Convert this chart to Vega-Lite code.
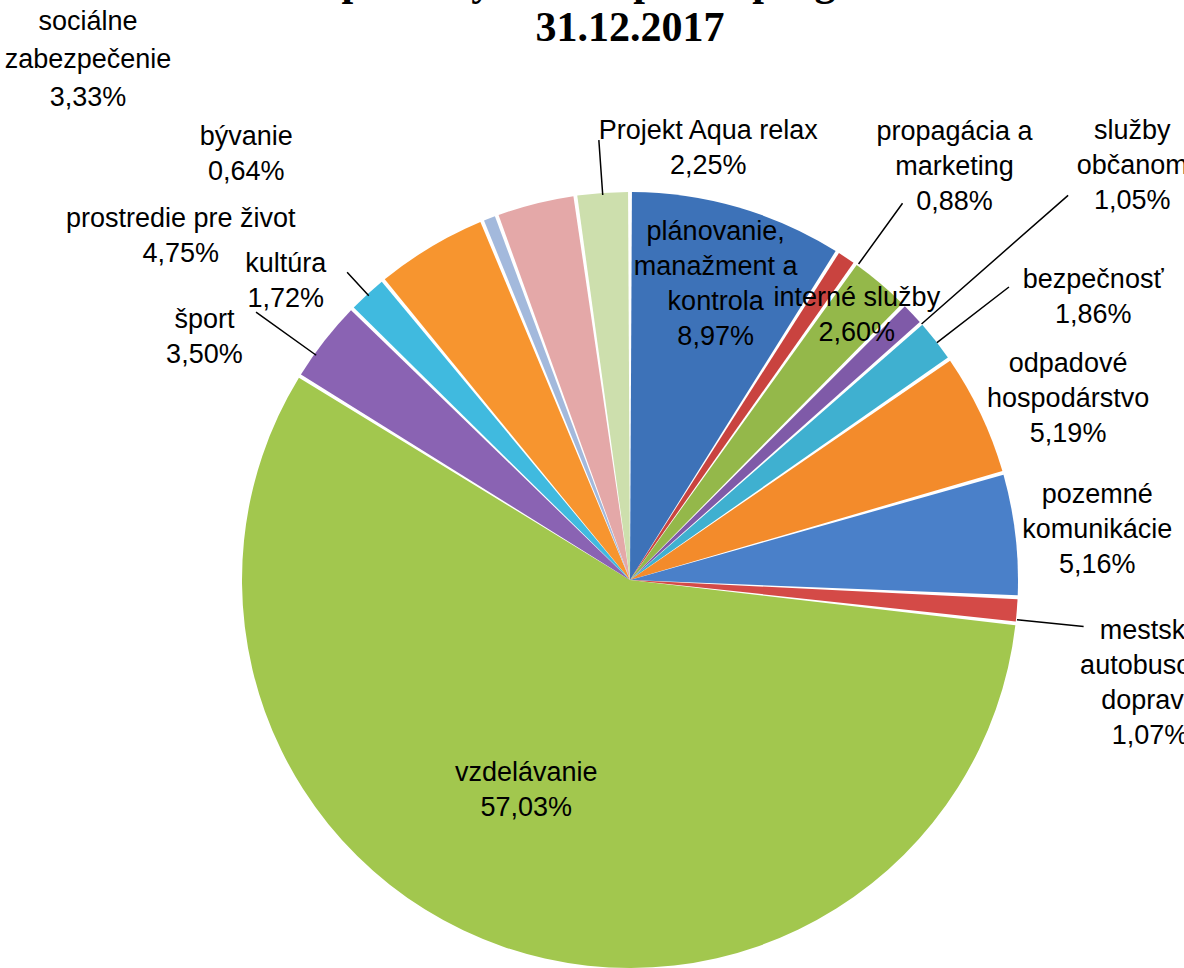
{
  "$schema": "https://vega.github.io/schema/vega-lite/v6.json",
  "width": 1108,
  "height": 776,
  "autosize": {"type": "none"},
  "padding": {"left": 76, "top": 192, "right": 0, "bottom": 0},
  "background": "white",
  "config": {"view": {"stroke": null}},
  "title": {
    "text": ["Čerpanie výdavkov podľa programov k", "31.12.2017"],
    "font": "Liberation Serif",
    "fontSize": 42,
    "fontWeight": "bold",
    "lineHeight": 46,
    "color": "black",
    "anchor": "middle",
    "frame": "group",
    "offset": 0,
    "dy": 42
  },
  "data": {
    "values": [
      {"order": 1, "name": "plánovanie,\nmanažment a\nkontrola", "value": 8.97},
      {"order": 2, "name": "propagácia a\nmarketing", "value": 0.88},
      {"order": 3, "name": "interné služby", "value": 2.60},
      {"order": 4, "name": "služby\nobčanom", "value": 1.05},
      {"order": 5, "name": "bezpečnosť", "value": 1.86},
      {"order": 6, "name": "odpadové\nhospodárstvo", "value": 5.19},
      {"order": 7, "name": "pozemné\nkomunikácie", "value": 5.16},
      {"order": 8, "name": "mestská\nautobusová\ndoprava", "value": 1.07},
      {"order": 9, "name": "vzdelávanie", "value": 57.03},
      {"order": 10, "name": "šport", "value": 3.50},
      {"order": 11, "name": "kultúra", "value": 1.72},
      {"order": 12, "name": "prostredie pre život", "value": 4.75},
      {"order": 13, "name": "bývanie", "value": 0.64},
      {"order": 14, "name": "sociálne\nzabezpečenie", "value": 3.33},
      {"order": 15, "name": "Projekt Aqua relax", "value": 2.25}
    ]
  },
  "transform": [
    {"stack": "value", "groupby": [], "sort": [{"field": "order"}], "as": ["v0", "v1"]},
    {"calculate": "(datum.v0 + datum.v1) / 2", "as": "mid"},
    {"calculate": "datum.name + '\\n' + replace(format(datum.value, '.2f'), '.', ',') + '%'", "as": "label"}
  ],
  "layer": [
    {
      "mark": {"type": "arc", "outerRadius": 388, "padAngle": 0.01},
      "encoding": {
        "theta": {"field": "v0", "type": "quantitative", "scale": {"domain": [0, 100]}},
        "theta2": {"field": "v1"},
        "color": {
          "field": "order",
          "type": "nominal",
          "scale": {
            "domain": [1, 2, 3, 4, 5, 6, 7, 8, 9, 10, 11, 12, 13, 14, 15],
            "range": ["#3D72B8", "#C9433F", "#94B84A", "#7F5AA8", "#3FB0D0", "#F38B2B", "#4A80C9", "#D44A47", "#A2C74E", "#8A63B3", "#40BADF", "#F7952F", "#A3B9DC", "#E4A8A8", "#CDDFAD"]
          },
          "legend": null
        }
      }
    },
    {"transform": [{"filter": "datum.order == 2"}], "mark": {"type": "arc", "radius": 465, "radius2": 390, "thetaOffset": 0.035, "theta2Offset": 0.035, "filled": false, "stroke": "black", "strokeWidth": 1.5}, "encoding": {"theta": {"field": "mid", "type": "quantitative"}, "theta2": {"field": "mid"}}},
    {"transform": [{"filter": "datum.order == 4"}], "mark": {"type": "arc", "radius": 583, "radius2": 388, "thetaOffset": 0.035, "theta2Offset": 0.035, "filled": false, "stroke": "black", "strokeWidth": 1.5}, "encoding": {"theta": {"field": "mid", "type": "quantitative"}, "theta2": {"field": "mid"}}},
    {"transform": [{"filter": "datum.order == 5"}], "mark": {"type": "arc", "radius": 479, "radius2": 388, "thetaOffset": 0.006, "theta2Offset": 0.006, "filled": false, "stroke": "black", "strokeWidth": 1.5}, "encoding": {"theta": {"field": "mid", "type": "quantitative"}, "theta2": {"field": "mid"}}},
    {"transform": [{"filter": "datum.order == 8"}], "mark": {"type": "arc", "radius": 456, "radius2": 389, "thetaOffset": 0.024, "theta2Offset": 0.024, "filled": false, "stroke": "black", "strokeWidth": 1.5}, "encoding": {"theta": {"field": "mid", "type": "quantitative"}, "theta2": {"field": "mid"}}},
    {"transform": [{"filter": "datum.order == 10"}], "mark": {"type": "arc", "radius": 460, "radius2": 386, "thetaOffset": -0.042, "theta2Offset": -0.042, "filled": false, "stroke": "black", "strokeWidth": 1.5}, "encoding": {"theta": {"field": "mid", "type": "quantitative"}, "theta2": {"field": "mid"}}},
    {"transform": [{"filter": "datum.order == 11"}], "mark": {"type": "arc", "radius": 418, "radius2": 386, "filled": false, "stroke": "black", "strokeWidth": 1.5}, "encoding": {"theta": {"field": "mid", "type": "quantitative"}, "theta2": {"field": "mid"}}},
    {"transform": [{"filter": "datum.order == 15"}], "mark": {"type": "arc", "radius": 441, "radius2": 386, "filled": false, "stroke": "black", "strokeWidth": 1.5}, "encoding": {"theta": {"field": "mid", "type": "quantitative"}, "theta2": {"field": "mid"}}},
    {"transform": [{"filter": "datum.order == 1"}], "mark": {"type": "text", "radius": 308, "thetaOffset": 0.0, "dy": -52, "font": "Liberation Sans", "fontSize": 27, "lineHeight": 35, "lineBreak": "\n", "align": "center", "baseline": "middle", "color": "black"}, "encoding": {"theta": {"field": "mid", "type": "quantitative"}, "text": {"field": "label"}}},
    {"transform": [{"filter": "datum.order == 2"}], "mark": {"type": "text", "radius": 525, "thetaOffset": 0.075, "dy": -35, "font": "Liberation Sans", "fontSize": 27, "lineHeight": 35, "lineBreak": "\n", "align": "center", "baseline": "middle", "color": "black"}, "encoding": {"theta": {"field": "mid", "type": "quantitative"}, "text": {"field": "label"}}},
    {"transform": [{"filter": "datum.order == 3"}], "mark": {"type": "text", "radius": 349, "thetaOffset": 0.007, "dy": -17, "font": "Liberation Sans", "fontSize": 27, "lineHeight": 35, "lineBreak": "\n", "align": "center", "baseline": "middle", "color": "black"}, "encoding": {"theta": {"field": "mid", "type": "quantitative"}, "text": {"field": "label"}}},
    {"transform": [{"filter": "datum.order == 4"}], "mark": {"type": "text", "radius": 651, "thetaOffset": 0.066, "dy": -35, "font": "Liberation Sans", "fontSize": 27, "lineHeight": 35, "lineBreak": "\n", "align": "center", "baseline": "middle", "color": "black"}, "encoding": {"theta": {"field": "mid", "type": "quantitative"}, "text": {"field": "label"}}},
    {"transform": [{"filter": "datum.order == 5"}], "mark": {"type": "text", "radius": 543, "thetaOffset": 0.115, "dy": -17, "font": "Liberation Sans", "fontSize": 27, "lineHeight": 35, "lineBreak": "\n", "align": "center", "baseline": "middle", "color": "black"}, "encoding": {"theta": {"field": "mid", "type": "quantitative"}, "text": {"field": "label"}}},
    {"transform": [{"filter": "datum.order == 6"}], "mark": {"type": "text", "radius": 474, "thetaOffset": 0.051, "dy": -35, "font": "Liberation Sans", "fontSize": 27, "lineHeight": 35, "lineBreak": "\n", "align": "center", "baseline": "middle", "color": "black"}, "encoding": {"theta": {"field": "mid", "type": "quantitative"}, "text": {"field": "label"}}},
    {"transform": [{"filter": "datum.order == 7"}], "mark": {"type": "text", "radius": 470, "thetaOffset": 0.010, "dy": -35, "font": "Liberation Sans", "fontSize": 27, "lineHeight": 35, "lineBreak": "\n", "align": "center", "baseline": "middle", "color": "black"}, "encoding": {"theta": {"field": "mid", "type": "quantitative"}, "text": {"field": "label"}}},
    {"transform": [{"filter": "datum.order == 8"}], "mark": {"type": "text", "radius": 530, "thetaOffset": 0.117, "dy": -52, "font": "Liberation Sans", "fontSize": 27, "lineHeight": 35, "lineBreak": "\n", "align": "center", "baseline": "middle", "color": "black"}, "encoding": {"theta": {"field": "mid", "type": "quantitative"}, "text": {"field": "label"}}},
    {"transform": [{"filter": "datum.order == 9"}], "mark": {"type": "text", "radius": 234, "thetaOffset": 0.127, "dy": -17, "font": "Liberation Sans", "fontSize": 27, "lineHeight": 35, "lineBreak": "\n", "align": "center", "baseline": "middle", "color": "black"}, "encoding": {"theta": {"field": "mid", "type": "quantitative"}, "text": {"field": "label"}}},
    {"transform": [{"filter": "datum.order == 10"}], "mark": {"type": "text", "radius": 490, "thetaOffset": -0.145, "dy": -17, "font": "Liberation Sans", "fontSize": 27, "lineHeight": 35, "lineBreak": "\n", "align": "center", "baseline": "middle", "color": "black"}, "encoding": {"theta": {"field": "mid", "type": "quantitative"}, "text": {"field": "label"}}},
    {"transform": [{"filter": "datum.order == 11"}], "mark": {"type": "text", "radius": 456, "thetaOffset": -0.112, "dy": -17, "font": "Liberation Sans", "fontSize": 27, "lineHeight": 35, "lineBreak": "\n", "align": "center", "baseline": "middle", "color": "black"}, "encoding": {"theta": {"field": "mid", "type": "quantitative"}, "text": {"field": "label"}}},
    {"transform": [{"filter": "datum.order == 12"}], "mark": {"type": "text", "radius": 566, "thetaOffset": -0.377, "dy": -17, "font": "Liberation Sans", "fontSize": 27, "lineHeight": 35, "lineBreak": "\n", "align": "center", "baseline": "middle", "color": "black"}, "encoding": {"theta": {"field": "mid", "type": "quantitative"}, "text": {"field": "label"}}},
    {"transform": [{"filter": "datum.order == 13"}], "mark": {"type": "text", "radius": 573, "thetaOffset": -0.363, "dy": -17, "font": "Liberation Sans", "fontSize": 27, "lineHeight": 35, "lineBreak": "\n", "align": "center", "baseline": "middle", "color": "black"}, "encoding": {"theta": {"field": "mid", "type": "quantitative"}, "text": {"field": "label"}}},
    {"transform": [{"filter": "datum.order == 14"}], "mark": {"type": "text", "radius": 752, "thetaOffset": -0.559, "dy": -37, "font": "Liberation Sans", "fontSize": 27, "lineHeight": 38, "lineBreak": "\n", "align": "center", "baseline": "middle", "color": "black"}, "encoding": {"theta": {"field": "mid", "type": "quantitative"}, "text": {"field": "label"}}},
    {"transform": [{"filter": "datum.order == 15"}], "mark": {"type": "text", "radius": 439, "thetaOffset": 0.250, "dy": -17, "font": "Liberation Sans", "fontSize": 27, "lineHeight": 35, "lineBreak": "\n", "align": "center", "baseline": "middle", "color": "black"}, "encoding": {"theta": {"field": "mid", "type": "quantitative"}, "text": {"field": "label"}}}
  ]
}
